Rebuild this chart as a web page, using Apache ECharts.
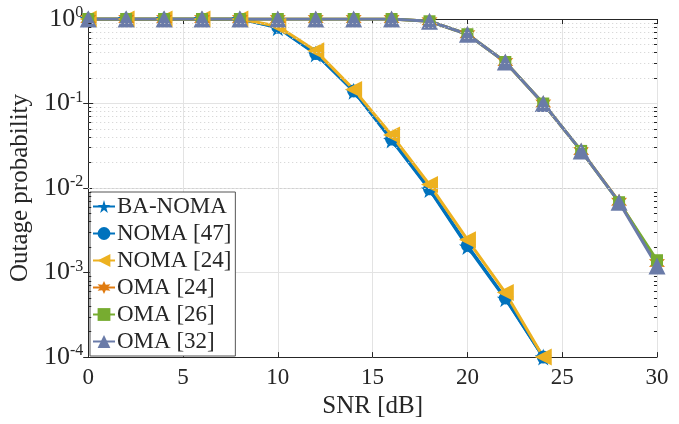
<!DOCTYPE html>
<html>
<head>
<meta charset="utf-8">
<script src="https://cdn.jsdelivr.net/npm/echarts@6/dist/echarts.min.js"></script>
<style>
  html, body { margin: 0; padding: 0; background: #fff; }
  #chart { width: 679px; height: 424px; }
</style>
</head>
<body>
<div id="chart"></div>
<script>
const snr = [0, 2, 4, 6, 8, 10, 12, 14, 16, 18, 20, 22, 24, 26, 28, 30];
const baNoma = [1, 1, 1, 1, 1, 0.79, 0.385, 0.14, 0.037, 0.0096, 0.00203, 0.00049, 0.0001];
const noma47 = [1, 1, 1, 1, 1, 0.8, 0.39, 0.141, 0.038, 0.0098, 0.0021, 0.0005, 0.0001];
const noma24 = [1, 1, 1, 1, 1, 0.82, 0.42, 0.147, 0.0424, 0.011, 0.00245, 0.00058, 0.0001];
const oma24 = [1, 1, 1, 1, 1, 1, 1, 1, 1, 0.94, 0.66, 0.31, 0.1, 0.0275, 0.0069, 0.0013];
const oma26 = [1, 1, 1, 1, 1, 1, 1, 1, 1, 0.94, 0.66, 0.31, 0.1, 0.0275, 0.0068, 0.0014];
const oma32 = [1, 1, 1, 1, 1, 1, 1, 1, 1, 0.94, 0.66, 0.31, 0.1, 0.0275, 0.0068, 0.0012];
const xTicks = [0, 5, 10, 15, 20, 25, 30];
const yDecades = [-4, -3, -2, -1, 0];

const star5 = "path://M50,0 L61,35 L98,35 L68,57 L79,91 L50,70 L21,91 L32,57 L2,35 L39,35 Z";
const star6 = "path://M50,0 L62,28 L93,25 L75,50 L93,75 L62,72 L50,100 L38,72 L7,75 L25,50 L7,25 L38,28 Z";

const font = "'Liberation Serif', 'Times New Roman', serif";
const ink = "#262626";
const pairs = (ys) => ys.map((y, i) => [snr[i], y]);

// minor grid values 2..9 x 10^k
const minorVals = [];
yDecades.slice(0, -1).forEach(k => {
  for (let m = 2; m <= 9; m++) minorVals.push(m * Math.pow(10, k));
});
// short inward minor ticks on left and right box edges
const minorTicks = [];
minorVals.forEach(v => {
  minorTicks.push([{ coord: [0, v] }, { coord: [0.16, v] }]);
  minorTicks.push([{ coord: [29.84, v] }, { coord: [30, v] }]);
});

const chart = echarts.init(document.getElementById("chart"));

function mk(name, data, color, symbol, size, rotate) {
  return {
    name: name,
    type: "line",
    data: pairs(data),
    symbol: symbol,
    symbolSize: size,
    symbolRotate: rotate || 0,
    showSymbol: true,
    lineStyle: { color: color, width: 3 },
    itemStyle: { color: color },
    z: 3,
  };
}

const axisCommon = {
  axisLine: { show: true, lineStyle: { color: ink, width: 1 } },
};

chart.setOption({
  animation: false,
  grid: { left: 83, right: 22, top: 19, bottom: 62, containLabel: false },
  xAxis: [
    {
      type: "value",
      min: 0,
      max: 30,
      interval: 5,
      name: "SNR [dB]",
      nameLocation: "middle",
      nameGap: 32,
      nameTextStyle: { fontFamily: font, fontSize: 25, color: ink },
      axisLabel: { fontFamily: font, fontSize: 23, color: ink, margin: 9,
        formatter: (v) => (xTicks.includes(v) ? String(v) : "") },
      axisTick: { inside: true, length: 5, lineStyle: { color: ink } },
      splitLine: { show: true, lineStyle: { color: "#e3e3e3", width: 1 } },
      ...axisCommon,
    },
    {
      type: "value",
      position: "top",
      min: 0,
      max: 30,
      interval: 5,
      axisLabel: { show: false },
      axisTick: { inside: true, length: 5, lineStyle: { color: ink } },
      splitLine: { show: false },
      ...axisCommon,
    },
  ],
  yAxis: [
    {
      type: "log",
      logBase: 10,
      min: 1e-4,
      max: 1,
      name: "Outage probability",
      nameLocation: "middle",
      nameGap: 50,
      nameTextStyle: { fontFamily: font, fontSize: 25, color: ink },
      axisLabel: {
        margin: 5,
        formatter: (v) => "{b|10}{s|" + Math.round(Math.log10(v)) + "}",
        rich: {
          b: { fontFamily: font, fontSize: 26, color: ink },
          s: { fontFamily: font, fontSize: 16, color: ink, verticalAlign: "top", padding: [0, 0, 12, 0] },
        },
      },
      axisTick: { inside: true, length: 5, lineStyle: { color: ink } },
      splitLine: { show: true, lineStyle: { color: "#e3e3e3", width: 1 } },
      ...axisCommon,
    },
    {
      type: "log",
      logBase: 10,
      min: 1e-4,
      max: 1,
      position: "right",
      axisLabel: { show: false },
      axisTick: { inside: true, length: 5, lineStyle: { color: ink } },
      splitLine: { show: false },
      ...axisCommon,
    },
  ],
  legend: {
    data: ["BA-NOMA", "NOMA [47]", "NOMA [24]", "OMA [24]", "OMA [26]", "OMA [32]"],
    orient: "vertical",
    left: 90,
    top: 192,
    itemWidth: 22,
    itemHeight: 16,
    itemGap: 0,
    padding: [1, 4, 1, 2],
    backgroundColor: "#fff",
    borderColor: "#555",
    borderWidth: 1,
    borderRadius: 0,
    textStyle: { fontFamily: font, fontSize: 23, color: ink, lineHeight: 27, padding: [0, 0, 0, -3] },
  },
  series: [
    {
      name: "minor-grid",
      type: "line",
      data: [],
      z: 1,
      markLine: {
        silent: true,
        symbol: "none",
        label: { show: false },
        lineStyle: { type: [1, 3], color: "#cfcfcf", width: 1 },
        data: minorVals.map(v => ({ yAxis: v })),
      },
    },
    {
      name: "minor-ticks",
      type: "line",
      data: [],
      z: 2,
      markLine: {
        silent: true,
        symbol: "none",
        label: { show: false },
        lineStyle: { type: "solid", color: ink, width: 1 },
        data: minorTicks,
      },
    },
    mk("BA-NOMA", baNoma, "#0072BD", star5, 17),
    mk("NOMA [47]", noma47, "#0072BD", "circle", 13),
    mk("NOMA [24]", noma24, "#EDB120", "triangle", 17, 90),
    mk("OMA [24]", oma24, "#E07B10", star6, 16),
    mk("OMA [26]", oma26, "#77AC30", "rect", 12),
    mk("OMA [32]", oma32, "#6A7BA8", "triangle", 17),
  ],
});
</script>
</body>
</html>
